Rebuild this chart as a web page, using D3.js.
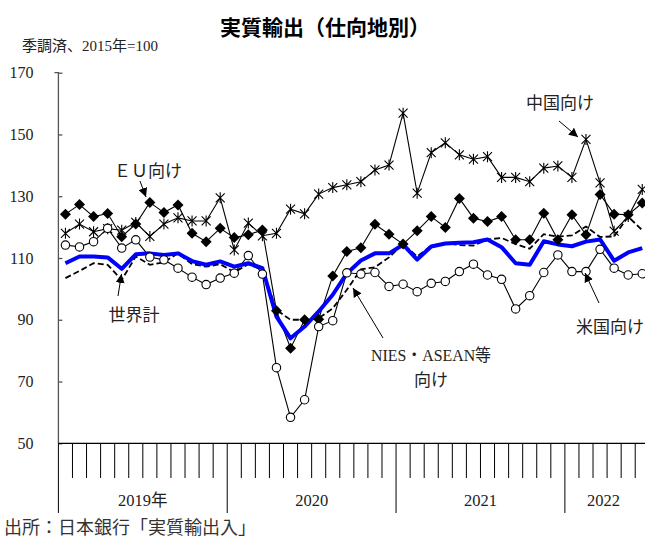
<!DOCTYPE html>
<html><head><meta charset="utf-8">
<script src="https://cdn.jsdelivr.net/npm/d3@7"></script>
<style>
html,body{margin:0;padding:0;background:#fff;}
svg{display:block;}
</style>
</head><body>
<svg id="chart" width="645" height="541"></svg>
<script>
// Monthly, Jan 2019 - Jun 2022
const months = d3.range(42);
const yearLabels = ["2019年", "2020", "2021", "2022"];
const yTicks = [50, 70, 90, 110, 130, 150, 170];

const world = [108.3,110.5,110.5,110.2,106.5,111.2,111.5,111.0,111.5,109.0,107.8,108.9,
               107.2,108.3,106.7,91.0,84.0,87.8,92.7,98.1,105.0,109.2,111.5,111.5,
               114.3,109.5,113.7,114.7,114.9,115.1,116.0,113.5,108.3,107.8,115.4,114.4,
               113.8,115.3,116.0,109.1,111.8,113.2];
const nies = [103.5,105.8,108.3,107.8,102.9,110.5,107.8,108.6,111.5,108.0,107.2,108.0,
              105.4,108.0,106.1,93.2,90.0,90.0,90.5,93.7,99.7,106.3,107.0,110.2,
              114.5,110.5,114.0,114.8,114.2,114.0,116.0,116.5,114.5,113.0,117.7,116.9,
              117.3,120.2,116.8,117.0,123.4,119.0];
const china = [118.0,121.0,118.5,119.5,119.0,121.5,117.0,121.0,123.0,122.0,122.0,129.5,
               112.6,121.3,117.2,118.0,125.8,124.3,130.7,132.8,133.7,134.7,138.5,140.1,
               156.9,131.0,144.1,147.3,143.4,142.0,142.8,136.1,136.1,134.7,139.1,139.8,
               136.1,148.4,134.3,118.7,123.4,132.2];
const eu = [124.2,127.3,123.4,124.4,116.9,121.0,128.0,124.7,127.2,118.0,115.3,119.6,
            116.6,117.5,119.1,92.9,80.8,90.0,90.2,104.2,112.1,113.3,120.9,117.7,
            114.5,118.8,123.4,119.9,129.3,122.9,121.8,123.4,115.9,115.9,124.5,115.9,
            124.0,117.5,130.6,124.2,124.0,127.8];
const us = [114.2,113.6,115.3,119.6,113.2,115.9,110.3,109.4,106.7,103.8,101.4,103.5,
            105.1,110.8,104.8,74.5,58.4,64.1,87.8,89.7,105.2,104.8,105.3,100.8,
            101.5,99.1,101.8,102.4,105.6,108.0,104.5,103.1,93.5,97.8,105.3,111.0,
            105.6,105.6,112.8,106.7,104.5,104.9];

const svg = d3.select("#chart");
const serif = "'Liberation Serif','DejaVu Serif','Noto Sans CJK JP',serif";
const gothic = "'Noto Sans CJK JP','Noto Sans',sans-serif";

const x = d3.scaleLinear().domain([0, 42]).range([58.4, 649.3]);
const y = d3.scaleLinear().domain([50, 170]).range([443.3, 72.7]);

// Title and notes
svg.append("text").attr("x", 325).attr("y", 35).attr("text-anchor", "middle")
  .attr("font-family", gothic).attr("font-weight", "bold").attr("font-size", 21)
  .text("実質輸出（仕向地別）");
svg.append("text").attr("x", 22).attr("y", 51)
  .attr("font-family", serif).attr("font-size", 15).attr("fill", "#222")
  .text("季調済、2015年=100");
svg.append("text").attr("x", 4).attr("y", 534)
  .attr("font-family", gothic).attr("font-size", 18).attr("fill", "#333")
  .text("出所：日本銀行「実質輸出入」");

// Y axis
const yAxis = d3.axisLeft(y).tickValues(yTicks).tickSize(-4).tickPadding(0).tickFormat(d3.format("d"));
const gy = svg.append("g").attr("transform", "translate(58.4,0)").call(yAxis);
gy.select(".domain").attr("stroke", "#555").attr("stroke-width", 1.3).attr("d", `M-4,${y(170)}H0V${y(50)}`);
gy.selectAll(".tick line").attr("stroke", "#555").attr("stroke-width", 1.3);
gy.selectAll(".tick text").attr("x", -25).attr("text-anchor", "end")
  .attr("font-family", serif).attr("font-size", 16).attr("fill", "#222");

// X axis
const gx = svg.append("g");
gx.append("line").attr("x1", x(0)).attr("x2", 645).attr("y1", y(50)).attr("y2", y(50))
  .attr("stroke", "#000").attr("stroke-width", 1.3);
gx.selectAll("line.tick").data(d3.range(43)).join("line").attr("class", "tick")
  .attr("x1", d => x(d)).attr("x2", d => x(d))
  .attr("y1", y(50)).attr("y2", d => d % 12 === 0 ? 513 : 478)
  .attr("stroke", "#000").attr("stroke-width", 1);
const yearCenters = [6, 18, 30, 38.75];
gx.selectAll("text.yr").data(yearLabels).join("text").attr("class", "yr")
  .attr("x", (d, i) => x(yearCenters[i])).attr("y", 506).attr("text-anchor", "middle")
  .attr("font-family", serif).attr("font-size", 16.5).attr("fill", "#222")
  .text(d => d);

const px = i => x(i + 0.5);
const lineGen = d3.line().x((d, i) => px(i)).y(d => y(d));

// Lines
svg.append("path").datum(china).attr("d", lineGen).attr("fill", "none").attr("stroke", "#000").attr("stroke-width", 1.1);
svg.append("path").datum(us).attr("d", lineGen).attr("fill", "none").attr("stroke", "#000").attr("stroke-width", 1.1);
svg.append("path").datum(eu).attr("d", lineGen).attr("fill", "none").attr("stroke", "#000").attr("stroke-width", 1.1);
svg.append("path").datum(nies).attr("d", lineGen).attr("fill", "none").attr("stroke", "#000")
  .attr("stroke-width", 1.8).attr("stroke-dasharray", "6,3");
svg.append("path").datum(world).attr("d", lineGen).attr("fill", "none").attr("stroke", "#0000ff")
  .attr("stroke-width", 4).attr("stroke-linejoin", "round");

// Markers
svg.append("g").selectAll("path").data(china).join("path")
  .attr("transform", (d, i) => `translate(${px(i)},${y(d)})`)
  .attr("d", "M-4.5,-4.5L4.5,4.5M-4.5,4.5L4.5,-4.5M0,-5.5L0,5.5")
  .attr("stroke", "#000").attr("stroke-width", 1.1).attr("fill", "none");
svg.append("g").selectAll("path").data(eu).join("path")
  .attr("transform", (d, i) => `translate(${px(i)},${y(d)})`)
  .attr("d", "M0,-5.5L5.5,0L0,5.5L-5.5,0Z").attr("fill", "#000");
svg.append("g").selectAll("circle").data(us).join("circle")
  .attr("cx", (d, i) => px(i)).attr("cy", d => y(d)).attr("r", 4.2)
  .attr("fill", "#fff").attr("stroke", "#000").attr("stroke-width", 1.1);

// Annotations
svg.append("defs").append("marker").attr("id", "arr").attr("viewBox", "0 0 10 10")
  .attr("refX", 10).attr("refY", 5).attr("markerWidth", 9).attr("markerHeight", 9)
  .attr("markerUnits", "userSpaceOnUse").attr("orient", "auto")
  .append("path").attr("d", "M0,0L10,5L0,10Z").attr("fill", "#000");

const notes = [
  {t: ["ＥＵ向け"], tx: 148, ty: 177, a: [140, 181, 146, 197]},
  {t: ["中国向け"], tx: 560, ty: 109, a: [559, 121, 578, 137]},
  {t: ["世界計"], tx: 134, ty: 321, a: [118, 296, 121.5, 274]},
  {t: ["NIES・ASEAN等", "向け"], tx: 431, ty: 361, a: [383, 338, 353, 288], len: 120},
  {t: ["米国向け"], tx: 610, ty: 333, a: [599, 303, 585, 273]}
];
notes.forEach(n => {
  const tt = svg.append("text").attr("text-anchor", "middle")
    .attr("font-family", serif).attr("font-size", 17).attr("fill", "#222");
  n.t.forEach((s, k) => {
    const sp = tt.append("tspan").attr("x", n.tx).attr("y", n.ty + k * 25).text(s);
    if (n.len && k === 0) sp.attr("textLength", n.len).attr("lengthAdjust", "spacingAndGlyphs");
  });
  svg.append("line").attr("x1", n.a[0]).attr("y1", n.a[1]).attr("x2", n.a[2]).attr("y2", n.a[3])
    .attr("stroke", "#000").attr("stroke-width", 1).attr("marker-end", "url(#arr)");
});
</script>
</body></html>
